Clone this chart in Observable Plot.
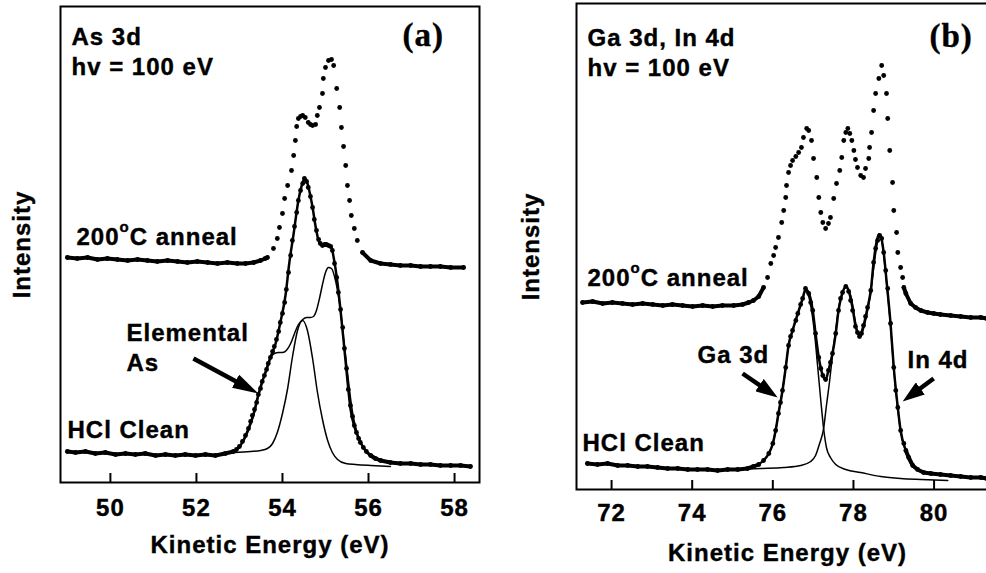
<!DOCTYPE html>
<html><head><meta charset="utf-8">
<script src="https://cdn.jsdelivr.net/npm/d3@7"></script>
<script src="https://cdn.jsdelivr.net/npm/@observablehq/plot@0.6"></script>
<style>
html,body{margin:0;padding:0;background:#fff;overflow:hidden;width:986px;height:573px;}
body{position:relative;}
#pa,#pb{position:absolute;top:0;}
#pa{left:0;width:520px;}
#pb{left:520px;width:480px;}
svg{max-width:none !important;}
svg text{letter-spacing:1px;font-weight:bold;stroke:black;stroke-width:0.4px;}
</style></head><body>
<div id="pa"></div><div id="pb"></div>
<script>
// ---------- Panel (a): As 3d ----------
const ticksA = [50, 52, 54, 56, 58];
const annealA_E = [49.00,49.23,49.47,49.70,49.93,50.16,50.40,50.63,50.86,51.09,51.33,51.56,51.79,52.02,52.26,52.49,52.72,52.95,53.14,53.33,53.49,53.60,
53.65,53.79,53.88,53.93,54.00,54.05,54.12,54.21,54.26,54.30,54.33,54.37,54.42,54.47,54.53,54.60,54.65,54.70,54.77,54.81,54.86,54.93,54.95,55.00,55.07,55.14,55.19,55.26,55.33,55.37,55.42,55.47,55.51,55.56,55.60,55.67,55.74,55.86,56.05,56.28,56.51,56.74,56.98,57.21,57.44,57.67,57.91,58.21];
const annealA_I = [225,224,225,223,224,223,222,223,222,221,222,221,220,221,220,219,220,219,219,220,222,224,
225,234,244,255,269,284,297,312,327,342,356,364,366,367,365,360,358,357,358,367,375,389,404,415,422,423,417,394,375,355,336,317,297,282,267,254,242,230,222,219,218,217,217,216,216,216,215,215];

const hclA_E = [49.00,49.19,49.42,49.65,49.88,50.12,50.35,50.58,50.81,51.05,51.28,51.51,51.74,51.98,52.21,52.44,52.67,52.86,
52.93,53.00,53.07,53.14,53.21,
53.26,53.30,53.35,53.40,53.44,53.49,53.53,53.58,53.63,53.67,53.72,53.77,53.81,53.86,53.91,53.95,54.00,54.05,54.09,54.14,54.19,54.23,54.28,54.33,54.37,54.42,54.47,54.51,
54.56,54.60,54.65,54.70,54.74,54.79,54.84,54.88,54.93,54.98,55.02,55.07,55.12,55.16,55.21,55.26,55.30,55.35,55.40,55.44,55.49,55.53,55.58,55.63,55.67,55.72,55.77,55.81,
55.88,55.95,56.05,56.16,56.28,56.51,56.74,56.98,57.21,57.44,57.67,57.91,58.14,58.37];
const hclA_I = [31,30,31,29,30,28,29,28,29,27,28,27,28,27,28,27,29,31,
33,36,41,47,54,
61,67,73,80,88,94,101,107,113,119,125,131,136,143,151,160,169,180,193,210,227,242,256,270,282,292,299,304,
301,295,286,275,263,252,243,239,237,238,238,237,236,232,219,205,190,173,155,134,114,93,77,66,57,50,44,40,
35,31,27,24,22,20,19,19,18,18,17,17,17,16];

const fitA_E = [52.86,52.98,53.09,53.21,53.33,53.44,53.53,53.63,53.72,53.84,53.95,54.07,54.16,54.26,54.37,54.47,54.51,54.56,54.60,54.70,54.77,54.84,54.93,55.00,55.07,55.14,55.19,55.28,55.35,55.42,55.51,55.58,55.70,55.88,56.21,56.74];
const fitA_I = [31,35,42,54,69,88,101,113,125,139,160,187,220,249,282,300,304,302,296,275,256,242,237,237,237,235,225,199,172,142,102,74,52,35,23,19];

const compA1_E = [52.86,53.26,53.49,53.65,53.77,53.88,54.00,54.12,54.23,54.35,54.47,54.58,54.70,54.81,54.93,55.05,55.16,55.28,55.47,55.70,56.05,56.51];
const compA1_I = [30,31,32,34,39,50,69,94,125,152,162,152,124,91,63,42,30,23,19,18,17,16];

const compA2_E = [52.86,52.98,53.09,53.21,53.33,53.44,53.53,53.60,53.67,53.74,53.81,53.91,54.00,54.09,54.19,54.28,54.37,54.47,54.56,54.65,54.72,54.79,54.86,54.93,55.00,55.07,55.14,55.21,55.28,55.35,55.42,55.49,55.56,55.63,55.72,55.86,56.05,56.28,56.74];
const compA2_I = [30,34,41,52,67,86,100,110,120,126,129,130,130,132,139,149,158,163,165,165,166,172,184,198,210,215,214,206,192,172,144,118,92,70,52,37,28,23,19];

const arrowsA = [{x1: 51.93, y1: 124, x2: 53.44, y2: 89}];

// ---------- Panel (b): Ga 3d, In 4d ----------
const ticksB = [72, 74, 76, 78, 80];
const annealB_E = [71.28,71.53,71.78,72.02,72.27,72.52,72.77,73.02,73.27,73.51,73.76,74.01,74.26,74.51,74.75,75.03,75.25,75.40,75.52,75.65,
75.77,75.87,75.95,76.02,76.07,76.14,76.22,76.27,76.32,76.34,76.39,76.44,76.49,76.57,76.64,76.71,76.76,76.84,76.89,76.96,77.01,77.09,77.14,77.19,77.24,77.31,77.38,77.43,77.51,77.58,77.66,77.71,77.76,77.81,77.86,77.91,77.96,78.01,78.05,78.10,78.18,78.25,78.30,78.38,78.40,78.45,78.50,78.55,78.63,78.70,78.75,78.82,78.85,78.90,78.97,79.00,79.07,79.10,79.17,79.22,79.25,
79.30,79.42,79.54,79.67,79.84,79.99,80.16,80.41,80.66,80.91,81.16,81.31];
const annealB_I = [187,188,186,187,186,185,186,185,184,185,184,183,184,183,184,184,185,187,189,193,
202,212,226,234,242,252,267,279,292,304,317,324,329,333,337,342,352,361,359,349,331,312,292,277,267,261,266,272,291,306,319,332,349,357,361,356,349,339,330,322,314,312,321,331,342,357,379,396,411,424,414,396,371,339,307,279,257,237,222,212,202,
196,186,182,179,177,176,175,174,173,172,172,171];

const hclB_E = [71.40,71.65,71.90,72.15,72.40,72.65,72.89,73.14,73.39,73.64,73.89,74.13,74.38,74.63,74.88,75.13,75.37,75.52,75.65,
75.77,75.90,76.00,76.07,76.14,76.19,76.24,76.32,76.39,76.44,76.49,76.57,76.62,76.69,76.74,76.81,76.89,76.94,76.99,77.06,77.14,77.19,77.24,77.31,77.38,77.43,77.48,77.56,77.63,77.68,77.73,77.81,77.88,77.93,77.98,78.05,78.10,78.15,78.20,78.25,78.30,78.35,78.43,78.50,78.55,78.60,78.65,78.70,78.75,78.80,78.85,78.92,79.00,79.05,79.10,79.17,79.25,
79.30,79.37,79.47,79.59,79.74,79.92,80.16,80.41,80.66,80.91,81.16,81.31];
const hclB_I = [26,25,26,24,24,23,23,22,21,21,20,20,20,19,20,20,21,23,25,
29,36,46,59,76,87,99,122,144,153,159,169,176,185,191,201,196,187,179,156,132,121,114,110,119,127,136,156,179,191,197,203,198,189,179,163,157,153,156,164,173,182,199,227,241,249,254,251,237,219,201,166,122,99,82,59,46,
39,32,24,20,17,16,15,14,13,12,12,11];

const fitB_E = [75.52,75.77,75.90,76.00,76.07,76.14,76.24,76.32,76.39,76.49,76.62,76.74,76.81,76.89,76.99,77.06,77.14,77.24,77.31,77.38,77.48,77.56,77.63,77.73,77.81,77.88,77.98,78.05,78.15,78.25,78.35,78.43,78.50,78.58,78.63,78.68,78.75,78.82,78.92,79.00,79.10,79.17,79.30,79.47,79.74,80.16];
const fitB_I = [23,29,36,46,59,76,99,122,144,159,176,191,200,197,179,156,132,114,110,119,136,156,179,197,203,199,181,164,154,164,182,199,227,249,255,253,237,209,166,122,82,59,39,24,17,15];

const gaB_E = [75.03,75.52,75.77,75.90,76.00,76.07,76.14,76.24,76.32,76.39,76.49,76.62,76.74,76.81,76.89,76.96,77.04,77.11,77.19,77.26,77.33,77.43,77.56,77.81,78.18,78.68,79.17,79.67,80.34];
const gaB_I = [20,23,29,36,46,59,76,99,122,144,159,176,191,198,193,179,154,124,89,61,42,32,25,20,17,13,11,10,9];

const inB_E = [75.03,75.70,76.27,76.69,76.94,77.06,77.16,77.26,77.33,77.41,77.48,77.56,77.63,77.73,77.81,77.88,77.96,78.03,78.10,78.18,78.25,78.35,78.43,78.50,78.58,78.63,78.68,78.75,78.82,78.92,79.00,79.10,79.17,79.30,79.47,79.74,80.24,80.78,81.31];
const inB_I = [20,21,22,24,28,34,46,61,84,109,134,159,181,197,203,200,189,172,158,153,161,179,197,221,244,253,252,235,207,164,121,81,58,38,24,18,15,12,11];

const arrowsB = [{x1: 75.25, y1: 116, x2: 76.12, y2: 92}, {x1: 79.99, y1: 111, x2: 79.22, y2: 88}];

// ---------- helpers ----------
const SANS = "Liberation Sans, Arial, Helvetica, sans-serif";
const SERIF = "Liberation Serif, Times New Roman, serif";
const rows = (E, I) => E.map((e, i) => ({E: e, I: I[i]}));

function lab(t, o) {
  return Plot.text([t], {text: d => d, frameAnchor: "top-left", textAnchor: "start", lineAnchor: "bottom",
    fontSize: 24, fontWeight: "bold", fontFamily: SANS, fill: "black", ...o});
}
function dense(data, lo, hi) {
  return Plot.line(data, {x: "E", y: d => (d.E <= lo || d.E >= hi) ? d.I : NaN, stroke: "black", strokeWidth: 4, strokeLinejoin: "round", strokeLinecap: "round"});
}
function dots(data) { return Plot.dot(data, {x: "E", y: "I", r: 2.4, fill: "black"}); }
function fitLine(data, w) { return Plot.line(data, {x: "E", y: "I", stroke: "black", strokeWidth: w, curve: "monotone-x"}); }

function finish(svg, id, len, wid) {
  const s = d3.select(svg);
  s.append("defs").append("marker").attr("id", id)
    .attr("viewBox", `0 0 ${len} ${wid}`).attr("refX", len).attr("refY", wid / 2)
    .attr("markerWidth", len).attr("markerHeight", wid).attr("markerUnits", "userSpaceOnUse").attr("orient", "auto")
    .append("path").attr("d", `M0,0L${len},${wid / 2}L0,${wid}Z`).attr("fill", "black");
  s.selectAll('g[aria-label="link"] path').each(function () {
    const L = this.getTotalLength();
    d3.select(this).attr("stroke-dasharray", `${Math.max(0, L - 10)} 2000`).attr("marker-end", `url(#${id})`);
  });
  s.selectAll("text").filter(function () { return this.textContent === "200°C anneal"; }).each(function () {
    const t = d3.select(this);
    t.text(null);
    t.append("tspan").text("200");
    t.append("tspan").attr("font-size", 15).attr("dy", -13).text("o");
    t.append("tspan").attr("dy", 13).text("C anneal");
  });
}

const common = {
  height: 573,
  style: {fontFamily: SANS, fontSize: "24px", fontWeight: "bold", background: "transparent", overflow: "visible", color: "black"}
};

// ---------- Plot (a) ----------
const dA = rows(annealA_E, annealA_I), hA = rows(hclA_E, hclA_I);
const plotA = Plot.plot({
  ...common,
  width: 520, marginLeft: 60, marginRight: 41, marginTop: 6, marginBottom: 91,
  x: {domain: [48.84, 58.58]},
  y: {domain: [0, 476], axis: null},
  marks: [
    Plot.frame({stroke: "black", strokeWidth: 2}),
    Plot.axisX({ticks: ticksA, tickFormat: d => d, tickSize: -9, tickPadding: 25.5, strokeWidth: 2, label: null,
      fontSize: 24, fontWeight: "bold", fontFamily: SANS}),
    dense(dA, 53.65, 55.86), dots(dA),
    fitLine(rows(compA1_E, compA1_I), 1.5),
    fitLine(rows(compA2_E, compA2_I), 1.5),
    fitLine(rows(fitA_E, fitA_I), 2.5),
    dense(hA, 52.86, 56.0), dots(hA),
    Plot.link(arrowsA, {x1: "x1", y1: "y1", x2: "x2", y2: "y2", stroke: "black", strokeWidth: 4.5}),
    lab("As 3d", {dx: 11, dy: 38}),
    lab("hv = 100 eV", {dx: 11, dy: 68}),
    lab("(a)", {dx: 342, dy: 39, fontFamily: SERIF, fontSize: 33}),
    lab("200°C anneal", {dx: 16, dy: 238}),
    lab("Elemental\nAs", {dx: 66, dy: 364, lineHeight: 1.25}),
    lab("HCl Clean", {dx: 7, dy: 431}),
    lab("Kinetic Energy (eV)", {frameAnchor: "bottom", textAnchor: "middle", dx: 0, dy: 70}),
    lab("Intensity", {frameAnchor: "left", textAnchor: "middle", lineAnchor: "middle", rotate: -90, dx: -38, dy: 0})
  ]
});
finish(plotA, "headA", 26, 15);
document.getElementById("pa").append(plotA);

// ---------- Plot (b) ----------
const dB = rows(annealB_E, annealB_I), hB = rows(hclB_E, hclB_I);
const plotB = Plot.plot({
  ...common,
  width: 480, marginLeft: 56, marginRight: 12, marginTop: 3, marginBottom: 84,
  x: {domain: [71.13, 81.35]},
  y: {domain: [0, 486], axis: null},
  marks: [
    Plot.frame({stroke: "black", strokeWidth: 2}),
    Plot.axisX({ticks: ticksB, tickFormat: d => d, tickSize: -9, tickPadding: 23, strokeWidth: 2, label: null,
      fontSize: 24, fontWeight: "bold", fontFamily: SANS}),
    dense(dB, 75.77, 79.25), dots(dB),
    fitLine(rows(gaB_E, gaB_I), 1.5),
    fitLine(rows(inB_E, inB_I), 1.5),
    fitLine(rows(fitB_E, fitB_I), 2.5),
    dense(hB, 75.65, 79.3), dots(hB),
    Plot.link(arrowsB, {x1: "x1", y1: "y1", x2: "x2", y2: "y2", stroke: "black", strokeWidth: 4.5}),
    lab("Ga 3d, In 4d", {dx: 11, dy: 42}),
    lab("hv = 100 eV", {dx: 11, dy: 72}),
    lab("(b)", {dx: 353, dy: 43, fontFamily: SERIF, fontSize: 33}),
    lab("200°C anneal", {dx: 11, dy: 282}),
    lab("Ga 3d", {dx: 121, dy: 359}),
    lab("In 4d", {dx: 331, dy: 364}),
    lab("HCl Clean", {dx: 6, dy: 447}),
    lab("Kinetic Energy (eV)", {frameAnchor: "bottom", textAnchor: "middle", dx: 5, dy: 71}),
    lab("Intensity", {frameAnchor: "left", textAnchor: "middle", lineAnchor: "middle", rotate: -90, dx: -45, dy: 0})
  ]
});
finish(plotB, "headB", 22, 15);
document.getElementById("pb").append(plotB);
</script>
</body></html>
